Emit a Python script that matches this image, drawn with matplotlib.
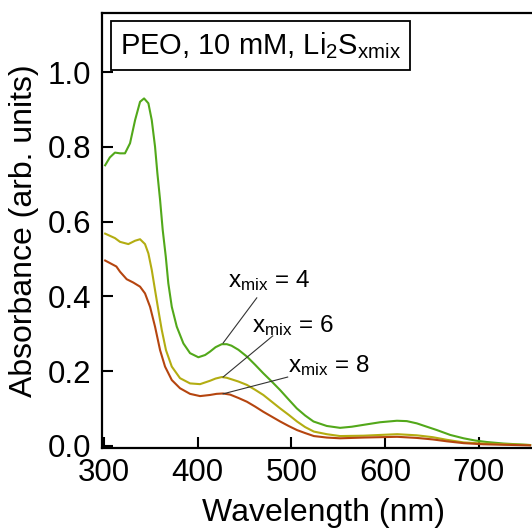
import matplotlib

matplotlib.use("Agg")
import matplotlib.pyplot as plt

plt.rcParams["font.family"] = ["Liberation Sans", "DejaVu Sans"]
plt.rcParams["mathtext.default"] = "regular"

# x_mix = 4 (green)
wl_4 = [301, 306, 311.5, 316.9, 322.2, 327.6, 333, 338.3, 342.6, 347.2, 350.8, 354.3,
        356.8, 359.7, 362.5, 365.8, 368.5, 372.2, 377.5, 384.6, 391.7, 400.6, 407.8,
        413, 419, 425.6, 431, 436, 443.4, 452.4, 461.2, 470, 479, 488, 497, 505.8,
        514.7, 523.6, 537.8, 552, 564.5, 577, 594.8, 612.7, 623.3, 634, 644.7, 655.5,
        669.7, 684, 696.4, 709, 726.7, 755]
abs_4 = [0.751, 0.772, 0.785, 0.783, 0.783, 0.810, 0.872, 0.921, 0.930, 0.917, 0.872, 0.801,
         0.730, 0.658, 0.578, 0.506, 0.435, 0.372, 0.319, 0.274, 0.248, 0.237, 0.243,
         0.252, 0.264, 0.272, 0.272, 0.268, 0.257, 0.239, 0.217, 0.194, 0.172, 0.149, 0.124, 0.100,
         0.081, 0.065, 0.053, 0.048, 0.051, 0.056, 0.063, 0.067, 0.066, 0.060, 0.051, 0.042,
         0.029, 0.020, 0.014, 0.010, 0.006, 0.002]

# x_mix = 6 (olive)
wl_6 = [301, 311.5, 316.9, 325.8, 333, 338.3, 343.6, 347.2, 350.8, 354.3, 357.8, 361.5,
        366, 372.2, 381, 391.7, 402.4, 413, 419, 425.6, 431, 436, 443.4, 452.4, 461.2,
        470, 479, 488, 497, 506, 514.7, 524, 537.8, 552, 577, 613, 634, 651, 666, 684,
        705, 755]
abs_6 = [0.568, 0.556, 0.546, 0.540, 0.549, 0.553, 0.540, 0.515, 0.471, 0.417, 0.364, 0.310,
         0.256, 0.212, 0.181, 0.167, 0.165, 0.174, 0.180, 0.184, 0.182, 0.178, 0.172, 0.163, 0.150,
         0.136, 0.118, 0.100, 0.083, 0.065, 0.050, 0.038, 0.031, 0.026, 0.027, 0.031, 0.028, 0.023,
         0.016, 0.009, 0.006, 0.002]

# x_mix = 8 (brown)
wl_8 = [301, 313, 316.9, 324, 331.1, 338.3, 343.6, 349, 354.3, 359.7, 365, 372.2, 381,
        391.7, 402.4, 413, 420, 427, 434.5, 443.4, 452.4, 461.2, 470, 479, 488, 497,
        506, 514.7, 524, 537.8, 552, 577, 613, 634, 651, 666, 684, 705, 755]
abs_8 = [0.496, 0.480, 0.466, 0.446, 0.437, 0.426, 0.408, 0.372, 0.319, 0.256, 0.212, 0.176, 0.154,
         0.139, 0.133, 0.136, 0.139, 0.140, 0.137, 0.128, 0.118, 0.105, 0.091, 0.078, 0.065, 0.053,
         0.042, 0.034, 0.026, 0.022, 0.020, 0.022, 0.024, 0.021, 0.017, 0.012, 0.007, 0.004, 0.001]

series = [
    (wl_4, abs_4, "#52a81a", "4", (432.6, 0.426), (463, 0.396), (427, 0.275)),
    (wl_6, abs_6, "#b3ad12", "6", (458.3, 0.305), (480, 0.294), (427, 0.184)),
    (wl_8, abs_8, "#b5450f", "8", (496.8, 0.198), (496, 0.184), (427, 0.139)),
]

fig = plt.figure(figsize=(5.32, 5.29), dpi=100)
ax = fig.add_axes([0.1923, 0.1526, 0.8305, 0.8223])

for wl, ab, color, label, text_pos, line_start, line_end in series:
    ax.plot(wl, ab, color=color, lw=1.5)
    ax.plot([line_start[0], line_end[0]], [line_start[1], line_end[1]],
            color="#333333", lw=0.8)
    ax.text(text_pos[0], text_pos[1], "$x_{mix}$ = " + label,
            fontsize=17.5, ha="left", va="baseline")

ax.text(0.04, 0.906, "PEO, 10 mM, Li$_2$S$_{xmix}$", transform=ax.transAxes,
        fontsize=21, ha="left", va="baseline",
        bbox=dict(boxstyle="square,pad=0.3", fc="white", ec="black", lw=1.3))

ax.set_xlim(297.97, 770)
ax.set_ylim(-0.0067, 1.158)
ax.set_xticks([300, 400, 500, 600, 700])
ax.set_yticks([0.0, 0.2, 0.4, 0.6, 0.8, 1.0])
ax.set_yticklabels(["0.0", "0.2", "0.4", "0.6", "0.8", "1.0"])
ax.tick_params(direction="in", length=8, width=1.5, labelsize=22.5)
ax.tick_params(axis="y", pad=8)
ax.tick_params(axis="x", pad=7)
for spine in ax.spines.values():
    spine.set_linewidth(1.6)

ax.set_xlabel("Wavelength (nm)", fontsize=23, labelpad=7)
ax.set_ylabel("Absorbance (arb. units)", fontsize=23, labelpad=6)

fig.savefig("out.png", dpi=100)
